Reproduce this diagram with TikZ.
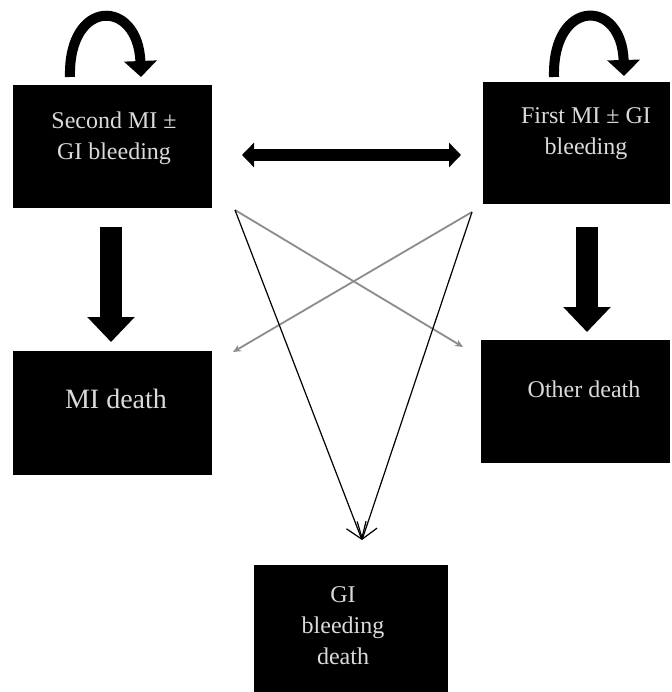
\documentclass[tikz,border=0pt]{standalone}
\usepackage{fontspec}
\setmainfont{Liberation Serif}
\usetikzlibrary{arrows.meta}
\definecolor{txt}{HTML}{DADADA}
\definecolor{graya}{HTML}{8C8C8C}
\begin{document}
\begin{tikzpicture}[x=1pt,y=-1pt,
  box/.style={fill=black,draw=none,inner sep=0pt},
  lbl/.style={text=txt,align=center,inner sep=0pt,font=\fontsize{24}{31}\selectfont},
  looparrow/.style={line width=10pt,-{Triangle[width=32pt,length=16pt]}},
  thickdown/.style={line width=22pt,-{Triangle[width=46pt,length=25pt]}},
  twoway/.style={line width=12pt,{Triangle[width=24pt,length=12pt]}-{Triangle[width=24pt,length=12pt]}},
  grayarrow/.style={draw=graya,line width=1.8pt,-{Stealth[length=8pt,width=7pt]}},
  blackarrow/.style={draw=black,line width=1.2pt,-{Straight Barb[length=15pt,width=21pt]}}]
\useasboundingbox[fill=white] (0,0) rectangle (671,692);

% boxes
\node[box,minimum width=199pt,minimum height=123pt] (smi) at (112.5,146.5) {};
\node[box,minimum width=187pt,minimum height=122pt] (fmi) at (576.5,143) {};
\node[box,minimum width=199pt,minimum height=124pt] (mid) at (112.5,413) {};
\node[box,minimum width=189pt,minimum height=123pt] (od) at (575.5,401.5) {};
\node[box,minimum width=194pt,minimum height=127pt] (gid) at (351,628.5) {};

% labels
\node[lbl] (t1) at (114,138) {Second MI ±\\GI bleeding};
\node[lbl] (t2) at (586,134) {First MI ± GI\\bleeding};
\node[lbl,font=\fontsize{28}{34}\selectfont] (t3) at (116,399) {MI death};
\node[lbl] (t4) at (584,389) {Other death};
\node[lbl] (t5) at (343,626) {GI\\bleeding\\death};

% coordinates
\coordinate (la) at (70,77);
\coordinate (lb) at (141,77);
\coordinate (ra) at (554,77);
\coordinate (rb) at (624,76);
\coordinate (ha) at (242,155);
\coordinate (hb) at (461,155);
\coordinate (da) at (111,227);
\coordinate (db) at (111,342);
\coordinate (ea) at (587,227);
\coordinate (eb) at (587,332);
\coordinate (p1) at (235,210);
\coordinate (p2) at (472,212);
\coordinate (q1) at (463,347);
\coordinate (q2) at (233,352);
\coordinate (tip) at (362,540);

% self loops
\draw[looparrow] (la) .. controls (68,-2) and (138,-2) .. (lb);
\draw[looparrow] (ra) .. controls (552,-2) and (622,-2) .. (rb);

% two-way arrow
\draw[twoway] (ha) -- (hb);

% thick down arrows
\draw[thickdown] (da) -- (db);
\draw[thickdown] (ea) -- (eb);

% crossing arrows
\draw[grayarrow] (p1) -- (q1);
\draw[grayarrow] (p2) -- (q2);
\draw[blackarrow] (p1) -- (tip);
\draw[blackarrow] (p2) -- (tip);
\end{tikzpicture}
\end{document}
